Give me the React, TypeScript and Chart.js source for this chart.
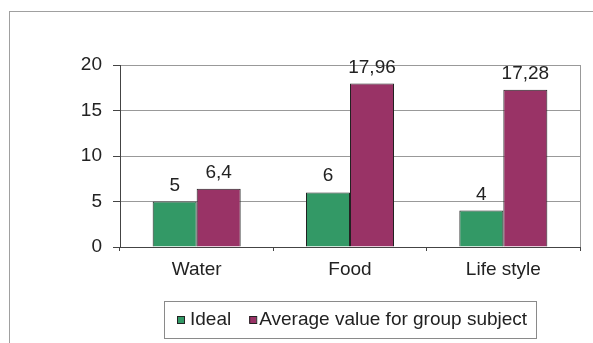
import React, { useEffect, useRef } from "react";
import { Chart, registerables } from "chart.js";

Chart.register(...registerables);

const categories = ["Water", "Food", "Life style"];
const idealValues = [5, 6, 4];
const averageValues = [6.4, 17.96, 17.28];
const seriesNames = ["Ideal", "Average value for group subject"];
const seriesColors = ["#339966", "#993366"];
const yTicks = { min: 0, max: 20, step: 5 };

const FONT = "'Liberation Sans', Arial, sans-serif";
const fmt = (v: number) => String(v).replace(".", ",");

const framePlugin = {
  id: "frame",
  beforeDraw(chart: any) {
    const ctx = chart.ctx;
    ctx.save();
    ctx.fillStyle = "#ffffff";
    ctx.fillRect(0, 0, chart.width, chart.height);
    ctx.strokeStyle = "#a0a0a0";
    ctx.lineWidth = 1;
    ctx.strokeRect(9.5, 11.5, chart.width + 20, chart.height + 20);
    ctx.restore();
  },
  afterDraw(chart: any) {
    const ctx = chart.ctx;
    const a = chart.chartArea;
    ctx.save();
    // plot area right border
    ctx.strokeStyle = "#999999";
    ctx.lineWidth = 1;
    ctx.beginPath();
    ctx.moveTo(Math.round(a.right) + 0.5, a.top);
    ctx.lineTo(Math.round(a.right) + 0.5, a.bottom);
    ctx.stroke();

    // legend
    const bx = 164.5, by = 301.5, bw = 372, bh = 37;
    ctx.strokeStyle = "#8a8a8a";
    ctx.strokeRect(bx, by, bw, bh);
    ctx.font = `19px ${FONT}`;
    ctx.textBaseline = "middle";
    ctx.textAlign = "left";
    const cy = 319.5;
    let x = 177;
    chart.data.datasets.forEach((ds: any, i: number) => {
      ctx.fillStyle = ds.backgroundColor;
      ctx.fillRect(x, cy - 3.5, 7, 7);
      ctx.strokeStyle = "#222";
      ctx.strokeRect(x + 0.5, cy - 3.5 + 0.5, 7, 7);
      const tx = i === 0 ? x + 13 : x + 10;
      ctx.fillStyle = "#222";
      ctx.fillText(ds.label, tx, cy);
      x = tx + ctx.measureText(ds.label).width + 18;
    });
    ctx.restore();
  },
  afterDatasetsDraw(chart: any) {
    const ctx = chart.ctx;
    ctx.save();
    ctx.font = `19px ${FONT}`;
    ctx.fillStyle = "#222";
    ctx.textAlign = "center";
    ctx.textBaseline = "alphabetic";
    chart.data.datasets.forEach((ds: any, di: number) => {
      const meta = chart.getDatasetMeta(di);
      meta.data.forEach((el: any, i: number) => {
        ctx.fillText(fmt(ds.data[i]), el.x, el.y - 11);
      });
    });
    ctx.restore();
  },
};

export default function App() {
  const ref = useRef<HTMLCanvasElement>(null);
  useEffect(() => {
    if (!ref.current) return;
    const chart = new Chart(ref.current, {
      type: "bar",
      data: {
        labels: categories,
        datasets: [
          {
            label: seriesNames[0],
            data: idealValues,
            backgroundColor: seriesColors[0],
            borderColor: "#222",
            borderWidth: 1,
          },
          {
            label: seriesNames[1],
            data: averageValues,
            backgroundColor: seriesColors[1],
            borderColor: "#222",
            borderWidth: 1,
          },
        ],
      },
      options: {
        responsive: false,
        animation: false,
        devicePixelRatio: 1,
        layout: { padding: { left: 0, right: 13, top: 65, bottom: 60 } },
        datasets: { bar: { categoryPercentage: 0.574, barPercentage: 1.0 } },
        plugins: { legend: { display: false }, tooltip: { enabled: false } },
        scales: {
          x: {
            grid: { offset: true, drawOnChartArea: false, drawTicks: true, tickLength: 4, color: "#444" },
            border: { color: "#444", width: 1 },
            ticks: { font: { size: 19, family: FONT }, color: "#222", padding: 7 },
            afterFit: (s: any) => { s.height = 36; },
          },
          y: {
            min: yTicks.min,
            max: yTicks.max,
            grid: { color: "#999", tickColor: "#444", tickLength: 7 },
            border: { color: "#444", width: 1 },
            ticks: { stepSize: yTicks.step, font: { size: 19, family: FONT }, color: "#222", padding: 11 },
            afterFit: (s: any) => { s.width = 120; },
          },
        },
      } as any,
      plugins: [framePlugin],
    });
    return () => chart.destroy();
  }, []);
  return (
    <div style={{ position: "fixed", left: 0, top: 0, width: 593, height: 343, background: "#fff" }}>
      <canvas ref={ref} width={593} height={343} style={{ width: 593, height: 343, display: "block" }} />
    </div>
  );
}
